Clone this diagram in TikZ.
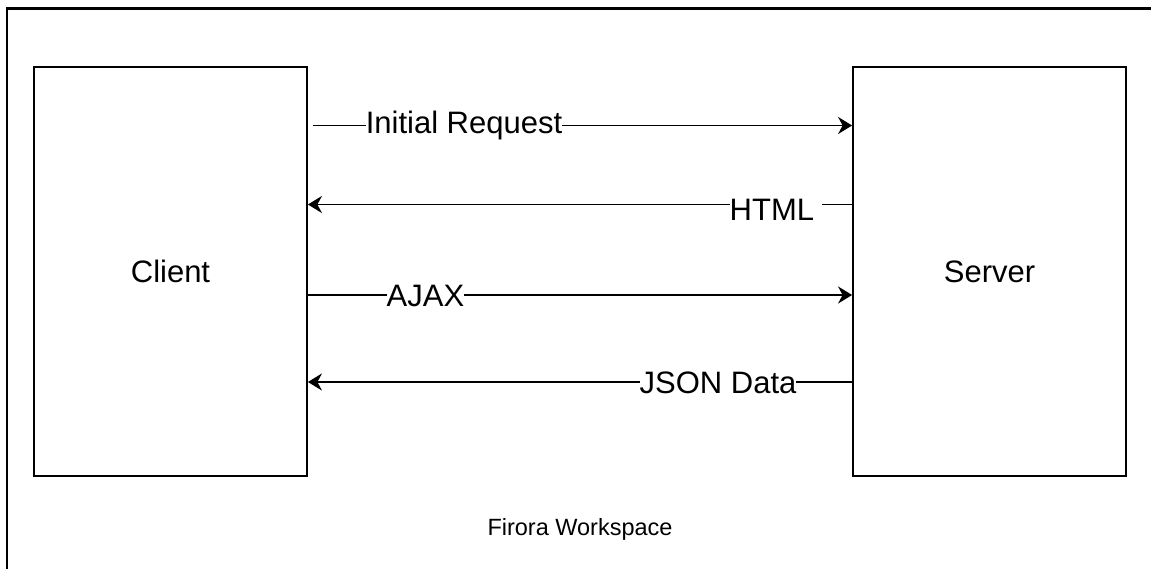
\documentclass[tikz,border=0pt]{standalone}
\usepackage{fontspec}
\setmainfont{Liberation Sans}
\usetikzlibrary{arrows.meta}
\begin{document}
\begin{tikzpicture}[x=1pt,y=-1pt,
  box/.style={draw=black, line width=1.8pt, minimum width=273pt, minimum height=409pt,
    inner sep=0pt, font=\fontsize{31}{36}\selectfont},
  flow/.style={line width=1.8pt, -{Stealth[length=14pt,width=17pt,inset=4.5pt]}},
  msg/.style={fill=white, inner xsep=0pt, inner ysep=2pt, anchor=base,
    font=\fontsize{31}{36}\selectfont},
  caption/.style={anchor=base, font=\fontsize{23.5}{28}\selectfont},
  frameline/.style={line width=2.4pt}]
\useasboundingbox (0,0) rectangle (1151,569);
\fill[white] (0,0) rectangle (1151,569);
% workspace frame
\draw[frameline] (1151,8.7) -- (7,8.7) -- (7,569);
% the two parties
\node[box] (client) at (170.5,271.5) {Client};
\node[box] (server) at (989.5,271.5) {Server};
\coordinate (reqstart) at ([xshift=5pt]client.east);
% initial request
\draw[flow] (reqstart |- 0,125.5) -- (server.west |- 0,125.5);
\node[msg] (req) at (464,134) {Initial Request};
% html reply
\draw[flow] (server.west |- 0,204.5) -- (client.east |- 0,204.5);
\node[msg, anchor=base west] (html) at (729.5,221) {HTML\hspace*{8pt}};
% ajax call
\draw[flow] (client.east |- 0,295) -- (server.west |- 0,295);
\node[msg] (ajax) at (425.5,307) {AJAX};
% json reply
\draw[flow] (server.west |- 0,382) -- (client.east |- 0,382);
\node[msg] (json) at (718,393) {JSON Data};
% caption
\node[caption] (ws) at (580,535) {Firora Workspace};
\end{tikzpicture}
\end{document}
